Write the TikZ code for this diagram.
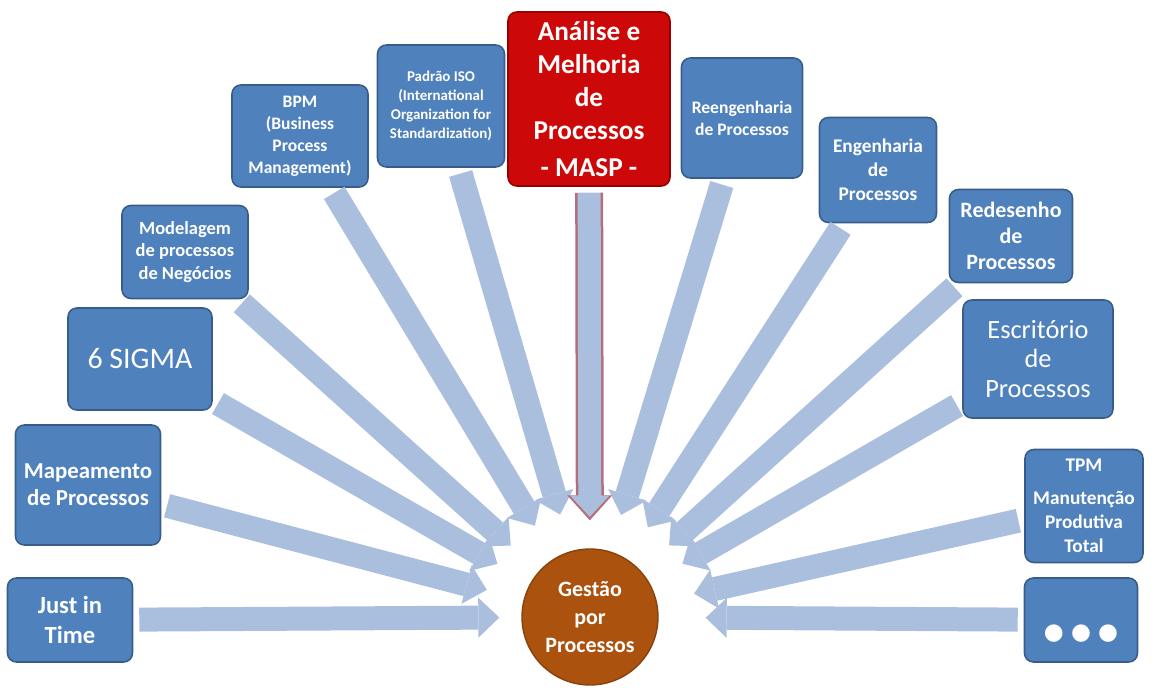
\documentclass[tikz,border=0pt]{standalone}
\usepackage{fontspec}
\setmainfont{Carlito}
\newfontfamily\dotfont{DejaVu Sans}
\usetikzlibrary{arrows.meta}
\definecolor{boxblue}{RGB}{79,129,189}
\definecolor{boxedge}{RGB}{56,93,138}
\definecolor{maspred}{RGB}{204,8,8}
\definecolor{maspedge}{RGB}{150,0,0}
\definecolor{feedblue}{RGB}{170,190,222}
\definecolor{feededge}{RGB}{180,110,120}
\definecolor{hubbrown}{RGB}{170,82,14}
\tikzset{
  procbox/.style={draw=boxedge, line width=0.9pt, fill=boxblue, rounded corners=5pt,
    text=white, font=\bfseries, align=center, inner sep=1pt},
  feed/.style={draw=feedblue, line width=0.48cm,
    -{Triangle[length=0.42cm,width=0.8cm,line width=0pt]},
    shorten <=0.12cm, shorten >=0.76cm},
}
\begin{document}
\begin{tikzpicture}[x=0.02cm,y=-0.02cm]
    \useasboundingbox (0,0) rectangle (1160,696);
    % centre
    \node[circle, fill=hubbrown, draw=hubbrown!80!black, line width=0.8pt,
      minimum size=2.72cm, inner sep=0pt, text=white, align=center,
      font=\bfseries\fontsize{12.5}{16}\selectfont] (gp) at (590,617) {Gestão\\por\\Processos};
    % boxes, left to right
    \node[procbox, minimum width=2.5cm, minimum height=1.68cm,
      font=\bfseries\fontsize{14}{17}\selectfont] (jit) at (70,620) {Just in\\Time};
    \node[procbox, minimum width=2.9cm, minimum height=2.4cm,
      font=\bfseries\fontsize{13}{15.5}\selectfont] (mapa) at (88,485) {Mapeamento\\de Processos};
    \node[procbox, minimum width=2.88cm, minimum height=2.04cm,
      font=\fontsize{17}{20}\selectfont] (sigma) at (140,359) {6 SIGMA};
    \node[procbox, minimum width=2.52cm, minimum height=1.86cm,
      font=\bfseries\fontsize{10.5}{13}\selectfont] (modelo) at (185,252) {Modelagem\\de processos\\de Negócios};
    \node[procbox, minimum width=2.72cm, minimum height=2.04cm,
      font=\bfseries\fontsize{10}{12.5}\selectfont] (bpm) at (300,136) {BPM\\(Business\\Process\\Management)};
    \node[procbox, minimum width=2.54cm, minimum height=2.44cm,
      font=\bfseries\fontsize{8.5}{10.8}\selectfont] (iso) at (441,106) {Padrão ISO\\(International\\Organization for\\Standardization)};
    \node[procbox, fill=maspred, draw=maspedge, minimum width=3.24cm, minimum height=3.48cm,
      font=\bfseries\fontsize{15.5}{18.8}\selectfont] (masp) at (589,99) {Análise e\\Melhoria\\de\\Processos\\[2pt]- MASP -};
    \node[procbox, minimum width=2.42cm, minimum height=2.4cm,
      font=\bfseries\fontsize{10}{12.5}\selectfont] (reeng) at (742,118) {Reengenharia\\de Processos};
    \node[procbox, minimum width=2.34cm, minimum height=2.1cm,
      font=\bfseries\fontsize{11}{13.7}\selectfont] (eng) at (878,170) {Engenharia\\de\\Processos};
    \node[procbox, minimum width=2.46cm, minimum height=1.86cm,
      font=\bfseries\fontsize{12.5}{14.8}\selectfont] (redes) at (1011,236) {Redesenho\\de\\Processos};
    \node[procbox, minimum width=3.0cm, minimum height=2.36cm,
      font=\fontsize{15}{17}\selectfont] (escr) at (1038,359) {Escritório\\de\\Processos};
    \node[procbox, minimum width=2.36cm, minimum height=2.26cm,
      font=\bfseries\fontsize{11}{13.7}\selectfont] (tpm) at (1084,506) {TPM\\[5pt]Manutenção\\Produtiva\\Total};
    \node[procbox, minimum width=2.26cm, minimum height=1.68cm,
      font=\dotfont\fontsize{13}{15}\selectfont] (etc) at (1081,620) {\smash{\raisebox{-11pt}{● ● ●}}};
    % arrows into the centre
    \draw[feed, shorten >=0.44cm] (jit) -- (gp);
    \draw[feed] (mapa) -- (gp);
    \draw[feed] (sigma) -- (gp);
    \draw[feed] (modelo) -- (gp);
    \draw[feed] (bpm) -- (gp);
    \draw[feed] (iso) -- (gp);
    \draw[feed] (reeng) -- (gp);
    \draw[feed] (eng) -- (gp);
    \draw[feed] (redes) -- (gp);
    \draw[feed] (escr) -- (gp);
    \draw[feed] (tpm) -- (gp);
    \draw[feed, shorten >=0.94cm] (etc) -- (gp);
    % the MASP arrow has an outline
    \draw[feed, draw=feededge, line width=0.56cm,
      -{Triangle[length=0.5cm,width=0.9cm,line width=0pt]}, shorten >=0.56cm] (masp) -- (gp);
    \draw[feed, line width=0.46cm,
      -{Triangle[length=0.42cm,width=0.78cm,line width=0pt]}, shorten >=0.63cm] (masp) -- (gp);
\end{tikzpicture}
\end{document}
